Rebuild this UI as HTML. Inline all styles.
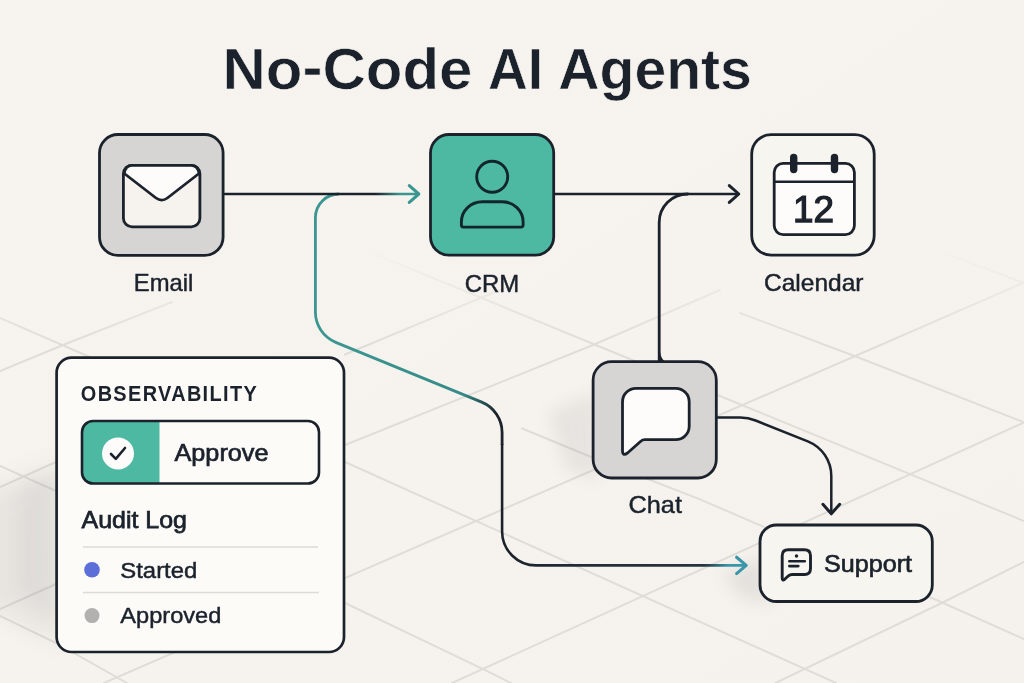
<!DOCTYPE html>
<html lang="en">
<head>
<meta charset="utf-8">
<title>No-Code AI Agents</title>
<style>
  html, body { margin: 0; padding: 0; background: #f6f3ee; }
  body { width: 1024px; height: 683px; overflow: hidden; }
  svg { display: block; }
  text { font-family: "Liberation Sans", sans-serif; fill: #1b222c; }
  .lbl { font-size: 23.4px; stroke: #1b222c; stroke-width: 0.45px; }
</style>
</head>
<body>
<svg width="1024" height="683" viewBox="0 0 1024 683" style="opacity:0.999">
  <defs>
    <linearGradient id="bg" x1="0" y1="0" x2="1" y2="1">
      <stop offset="0" stop-color="#f7f4ef"/>
      <stop offset="1" stop-color="#f5f2ed"/>
    </linearGradient>
    <linearGradient id="gEmail" gradientUnits="userSpaceOnUse" x1="225" y1="0" x2="420" y2="0">
      <stop offset="0" stop-color="#1b222c"/>
      <stop offset="0.77" stop-color="#1b222c"/>
      <stop offset="0.9" stop-color="#3b9692"/>
      <stop offset="1" stop-color="#3b9692"/>
    </linearGradient>
    <linearGradient id="gLong" gradientUnits="userSpaceOnUse" x1="335" y1="342" x2="502" y2="435">
      <stop offset="0" stop-color="#3b9692"/>
      <stop offset="0.72" stop-color="#368b88"/>
      <stop offset="0.92" stop-color="#1b222c"/>
      <stop offset="1" stop-color="#1b222c"/>
    </linearGradient>
    <linearGradient id="gSup" gradientUnits="userSpaceOnUse" x1="503" y1="0" x2="748" y2="0">
      <stop offset="0" stop-color="#1b222c"/>
      <stop offset="0.3" stop-color="#222c36"/>
      <stop offset="0.82" stop-color="#27343d"/>
      <stop offset="0.92" stop-color="#3a96a8"/>
      <stop offset="1" stop-color="#3a96a8"/>
    </linearGradient>
    <filter id="blur12" x="-50%" y="-50%" width="200%" height="200%"><feGaussianBlur stdDeviation="12"/></filter>
    <filter id="blur8" x="-50%" y="-50%" width="200%" height="200%"><feGaussianBlur stdDeviation="8"/></filter>
  </defs>

  <!-- background -->
  <rect width="1024" height="683" fill="url(#bg)"/>

  <!-- grid -->
  <mask id="gfade" maskUnits="userSpaceOnUse" x="0" y="0" width="1024" height="683">
    <linearGradient id="gfg" gradientUnits="userSpaceOnUse" x1="0" y1="250" x2="0" y2="345">
      <stop offset="0" stop-color="#000"/>
      <stop offset="1" stop-color="#fff"/>
    </linearGradient>
    <rect width="1024" height="683" fill="url(#gfg)"/>
  </mask>
  <g id="grid" stroke="#dfddd8" stroke-width="2" fill="none" stroke-linecap="round" mask="url(#gfade)">
    <path d="M0 318 L100 361.500"/>
    <path d="M0 371 L63 345 L172 302"/>
    <path d="M0 487 L56 462"/>
    <path d="M0 466 L56 491"/>
    <path d="M0 609 L56 584"/>
    <path d="M0 616 L56 643 L127 683"/>
    <path d="M104 683 L1024 282.500"/>
    <path d="M452 683 L1024 422.400"/>
    <path d="M775.500 683 L941.700 603 L1024 562"/>
    <path d="M345 354.500 L479 298.700 L505 288"/>
    <path d="M345 445 L593 345 L720 290"/>
    <path d="M345 462 L836 683"/>
    <path d="M345 603 L483.600 669.400 L511 683"/>
    <path d="M365 250 L1024 521"/>
    <path d="M740 313 L857.800 357.300 L1024 422.400"/>
    <path d="M880 229 L1024 283"/>
    <path d="M522 428.500 L536.700 434.500 L590 456.500 L700 499.400 L758 524.300 L932 598 L1024 639"/>
  </g>

  <!-- shadows -->
  <g id="shadows" fill="#67676a">
    <path d="M60 462 L-20 497 L-20 600 L60 645 Z" filter="url(#blur12)" opacity="0.105"/>
    <path d="M60 470 L20 488 L20 590 L60 625 Z" filter="url(#blur8)" opacity="0.06"/>
    <path d="M596 392 L548 412 L566 470 L600 480 Z" filter="url(#blur8)" opacity="0.10"/>
    <path d="M764 556 L722 574 L742 598 L772 604 Z" filter="url(#blur8)" opacity="0.12"/>
  </g>

  <!-- title -->
  <g id="title" font-size="58" font-weight="700" stroke="#f6f3ee" stroke-width="0.6">
    <text x="222.500" y="88.800" textLength="250" lengthAdjust="spacingAndGlyphs">No<tspan dy="-2.3">-</tspan><tspan dy="2.3">Code</tspan></text>
    <text x="488" y="88.800" textLength="55" lengthAdjust="spacingAndGlyphs">AI</text>
    <text x="558.300" y="88.800" textLength="193.500" lengthAdjust="spacingAndGlyphs">Agents</text>
  </g>

  <!-- connectors -->
  <g fill="none" stroke-linecap="round" stroke-linejoin="round">
    <!-- long teal path -->
    <path d="M339 194 A23.600 23.600 0 0 0 315.400 217.600 V312 A32.800 32.800 0 0 0 335.760 342.350 L481.740 402.150 A32.800 32.800 0 0 1 502.100 432.500 V445" stroke="url(#gLong)" stroke-width="2.8" stroke-linecap="butt"/>
    <!-- email -> crm -->
    <path d="M225 194 H417.500" stroke="url(#gEmail)" stroke-width="2.6"/>
    <path d="M409.300 185.600 L418.800 194 L409.300 202.400" stroke="#3b9692" stroke-width="3.1"/>
    <path d="M502.100 444 V531.500 A34 34 0 0 0 536.100 565.400 H745" stroke="url(#gSup)" stroke-width="2.6" stroke-linecap="butt"/>
    <path d="M736.600 557.200 L746.200 565.400 L736.600 573.600" stroke="#3a96a8" stroke-width="3.1"/>
    <!-- crm -> calendar -->
    <path d="M555 194 H737.500" stroke="#1b222c" stroke-width="2.6"/>
    <path d="M729.300 185.600 L738.800 194 L729.300 202.400" stroke="#1b222c" stroke-width="3"/>
    <!-- chat -> calendar -->
    <path d="M659.200 361.700 V222.500 A28.500 28.500 0 0 1 687.700 194" stroke="#1b222c" stroke-width="2.8"/>
    <path d="M660 352 Q661 358.500 665 361.500 H660 Z" fill="#1b222c" stroke="none"/>
    <!-- chat -> support -->
    <path d="M717.500 417.500 H740.200 Q748.200 417.500 755.600 420.500 L807.800 441.300 A37.400 37.400 0 0 1 831.300 476 V513" stroke="#1b222c" stroke-width="2.5"/>
    <path d="M822.900 504.300 L831.300 513.800 L839.700 504.300" stroke="#1b222c" stroke-width="3"/>
  </g>

  <!-- Email node -->
  <rect x="99.500" y="134.500" width="123.600" height="120.900" rx="18.500" fill="#d6d5d3" stroke="#1b222c" stroke-width="2.8"/>
  <rect x="123.400" y="165.300" width="76.500" height="61.500" rx="8.500" fill="#f6f3ee" stroke="#1b222c" stroke-width="2.8"/>
  <path d="M124.300 173.500 L156 198 Q161.700 202.300 167.400 198 L199 173.500 Q198 165.300 191 165.300 H132 Q125.300 165.300 124.300 173.500 Z" fill="#fdfcfa" stroke="#1b222c" stroke-width="2.8" stroke-linejoin="round"/>
  <text class="lbl" x="133.800" y="291.400" textLength="59.500" lengthAdjust="spacingAndGlyphs">Email</text>

  <!-- CRM node -->
  <rect x="430.500" y="134.500" width="123.200" height="120.700" rx="18.500" fill="#4db9a3" stroke="#1b222c" stroke-width="2.8"/>
  <circle cx="492.200" cy="176.800" r="15.500" fill="none" stroke="#12262b" stroke-width="2.900"/>
  <path d="M463.400 227.100 Q461.400 227.100 461.400 225.100 V222 A21 20.300 0 0 1 482.400 201.700 H502.100 A21 20.300 0 0 1 523.100 222 V225.100 Q523.100 227.100 521.100 227.100 Z" fill="none" stroke="#12262b" stroke-width="2.900" stroke-linejoin="round"/>
  <text class="lbl" x="464.800" y="291.500" textLength="54.500" lengthAdjust="spacingAndGlyphs">CRM</text>

  <!-- Calendar node -->
  <rect x="751.700" y="134.600" width="122.500" height="120.500" rx="19.500" fill="#f7f5f0" stroke="#1b222c" stroke-width="2.8"/>
  <rect x="774.200" y="163.300" width="80.200" height="71.300" rx="9" fill="#fdfcfa" stroke="#1b222c" stroke-width="2.8"/>
  <path d="M774 181.800 H854.500" stroke="#1b222c" stroke-width="2.4"/>
  <path d="M793.700 157.500 V169.500 M834.500 157.500 V169.500" stroke="#1b222c" stroke-width="7.4" stroke-linecap="round"/>
  <text x="793" y="222" font-size="37" stroke="#1b222c" stroke-width="1.25" textLength="41" lengthAdjust="spacingAndGlyphs">12</text>
  <text class="lbl" x="764" y="291.400" textLength="99.500" lengthAdjust="spacingAndGlyphs">Calendar</text>

  <!-- Chat node -->
  <rect x="593.100" y="361.700" width="123.200" height="116.300" rx="18.500" fill="#d6d5d3" stroke="#1b222c" stroke-width="2.8"/>
  <path d="M636 388.400 H675.700 A13.500 13.500 0 0 1 689.200 401.900 V426.200 A13.500 13.500 0 0 1 675.700 439.700 H645 Q642.500 439.700 640.500 441.500 L627.500 453 Q622.500 456.500 622.500 450.500 V401.900 A13.500 13.500 0 0 1 636 388.400 Z" fill="#fdfcfa" stroke="#1b222c" stroke-width="2.8" stroke-linejoin="round"/>
  <text class="lbl" x="628.500" y="512.700" textLength="53.500" lengthAdjust="spacingAndGlyphs">Chat</text>

  <!-- Support node -->
  <rect x="760" y="525" width="172.300" height="76.500" rx="16.500" fill="#f7f5f0" stroke="#1b222c" stroke-width="2.8"/>
  <path d="M788.200 549.700 H804.500 Q810.500 549.700 810.500 555.700 V568.500 Q810.500 574.500 804.500 574.500 H792 Q790 574.500 788.500 575.800 L784.700 579.300 Q782.200 581.300 782.200 578 V555.700 Q782.200 549.700 788.200 549.700 Z" fill="none" stroke="#1b222c" stroke-width="2.9" stroke-linejoin="round"/>
  <circle cx="796.500" cy="555.900" r="1.750" fill="#1b222c"/>
  <path d="M789.300 561.300 H804.800 M789.300 566.100 H798.300" stroke="#1b222c" stroke-width="2.6" stroke-linecap="round"/>
  <text x="824" y="572" font-size="23.500" stroke="#1b222c" stroke-width="0.650" textLength="88" lengthAdjust="spacingAndGlyphs">Support</text>

  <!-- Observability panel -->
  <rect x="56.600" y="357.700" width="287.400" height="294.300" rx="15" fill="#fcfbf8" stroke="#1b222c" stroke-width="2.7"/>
  <text transform="translate(80.800 400.600) scale(0.870 1)" font-size="22.900" font-weight="700" letter-spacing="1.550">OBSERVABILITY</text>

  <!-- approve button -->
  <clipPath id="btnclip"><rect x="82" y="421" width="237" height="62.500" rx="11"/></clipPath>
  <rect x="82" y="421" width="237" height="62.500" rx="11" fill="#fcfbf8"/>
  <rect x="82" y="421" width="77.500" height="62.500" fill="#4db9a3" clip-path="url(#btnclip)"/>
  <rect x="82" y="421" width="237" height="62.500" rx="11" fill="none" stroke="#1b222c" stroke-width="2.6"/>
  <circle cx="118" cy="453.500" r="16" fill="#fdfcfa"/>
  <path d="M111 454 L115.800 458.800 L125 448" fill="none" stroke="#1b222c" stroke-width="2.6" stroke-linecap="round" stroke-linejoin="round"/>
  <text x="174.500" y="461" font-size="24.200" stroke="#1b222c" stroke-width="0.700" textLength="94" lengthAdjust="spacingAndGlyphs">Approve</text>

  <!-- audit log -->
  <text x="81.500" y="527.500" font-size="24" stroke="#1b222c" stroke-width="0.750" textLength="105.500" lengthAdjust="spacingAndGlyphs">Audit Log</text>
  <path d="M83 547 H318 M83 592.500 H319" stroke="#dcdbd8" stroke-width="1.600"/>
  <circle cx="92" cy="569.700" r="7.800" fill="#5c6fd8"/>
  <text x="120.300" y="577.500" font-size="22.500" stroke="#1b222c" stroke-width="0.450" textLength="77" lengthAdjust="spacingAndGlyphs">Started</text>
  <circle cx="92" cy="615.600" r="7.500" fill="#b2b1af"/>
  <text x="120.300" y="622.800" font-size="22.500" stroke="#1b222c" stroke-width="0.450" textLength="101" lengthAdjust="spacingAndGlyphs">Approved</text>
</svg>
</body>
</html>
